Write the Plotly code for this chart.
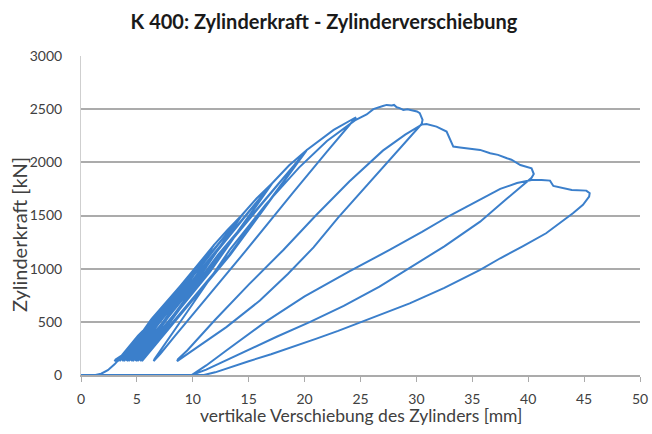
import plotly.graph_objects as go

# ---- data (displacement in mm, force in kN) ----
# initial loading and the small / medium load cycles
small_x = [0, 1.3, 1.8, 2.4, 3.0, 3.6, 4.3, 4.9,
           3.9, 3.1, 3.0, 3.1, 3.8, 4.85,
           6.1, 7.3,
           5.5, 3.6, 3.3, 3.38, 5.1, 7.25,
           5.6, 3.75, 3.45, 3.52, 5.2, 7.3,
           8.4, 9.5,
           6.9, 4.1, 3.7, 3.78, 6.3, 9.45,
           7.0, 4.25, 3.85, 3.93, 6.45, 9.5,
           10.7, 11.9,
           8.35, 4.55, 4.1, 4.18, 7.65, 11.85,
           8.45, 4.7, 4.25, 4.33, 7.8, 11.9,
           13.1, 14.4,
           9.85, 4.95, 4.5, 4.58, 9.05, 14.35,
           9.95, 5.1, 4.65, 4.73, 9.2, 14.4,
           15.7, 17.1,
           11.45, 5.4, 4.9, 4.98, 10.55, 17.05,
           11.55, 5.55, 5.05, 5.13, 10.7, 17.1,
           18.6, 20.2,
           13.25, 5.8, 5.3, 5.38, 12.25, 20.15,
           13.35, 5.95, 5.45, 5.53, 12.4, 20.2,
           22.6, 24.6]
small_f = [0, 0, 12, 45, 100, 165, 250, 320,
           190, 140, 128, 145, 195, 318,
           465, 600,
           370, 170, 130, 150, 370, 595,
           372, 172, 130, 150, 372, 600,
           760, 912,
           526, 180, 130, 150, 526, 905,
           526, 180, 130, 150, 526, 912,
           1070, 1223,
           682, 185, 130, 150, 682, 1215,
           682, 185, 130, 150, 682, 1223,
           1365, 1505,
           823, 190, 130, 150, 823, 1497,
           823, 190, 130, 150, 823, 1505,
           1660, 1803,
           972, 195, 130, 150, 972, 1795,
           972, 195, 130, 150, 972, 1803,
           1970, 2117,
           1129, 200, 130, 150, 1129, 2108,
           1129, 200, 130, 150, 1129, 2117,
           2305, 2424]

# cycle at 24.6 mm
loop24_x = [22.0, 19.0, 14.8, 11.0, 8.5, 7.1, 6.5,
            6.58, 8.0, 10.0, 13.3, 16.5, 19.5, 22.0, 24.5]
loop24_f = [2100, 1720, 1176, 700, 380, 200, 130,
            150, 370, 670, 1176, 1600, 1950, 2200, 2395]

# maximum load region
peak_x = [25.0, 25.55, 26.15, 26.74, 27.0, 27.34, 27.8, 28.0, 28.24, 28.5,
          28.83, 29.2, 29.72, 30.05, 30.3, 30.55, 30.47]
peak_f = [2420, 2450, 2500, 2524, 2530, 2540, 2535, 2540, 2518, 2510,
          2493, 2498, 2487, 2478, 2462, 2399, 2361]

# cycle at 30.5 mm
loop30_x = [28.0, 25.5, 23.0, 20.8, 18.5, 16.0, 13.0, 10.8, 9.3, 8.6,
            8.68, 9.5, 12.0, 15.0, 18.1, 21.0, 24.0, 27.0, 29.0, 30.47]
loop30_f = [2070, 1780, 1480, 1200, 950, 700, 450, 290, 180, 130,
            150, 230, 520, 850, 1176, 1500, 1820, 2110, 2260, 2355]

# softening branch
soft_x = [30.9, 31.8, 32.7, 33.0, 33.3, 33.9, 34.5, 35.1, 35.7, 36.6, 37.3,
          38.1, 38.5, 39.3, 39.9, 40.3, 40.5, 40.3]
soft_f = [2361, 2336, 2289, 2211, 2148, 2140, 2133, 2128, 2117, 2085, 2070,
          2038, 2025, 1975, 1955, 1944, 1890, 1855]

# cycle at 40 mm
loop40_x = [38.0, 35.7, 32.5, 29.4, 26.7, 23.5, 20.5, 17.5, 15.0, 12.8, 11.2, 9.9,
            11.2, 13.0, 16.5, 20.0, 24.0, 27.6, 30.5, 33.0, 35.7, 37.5, 39.0, 40.3]
loop40_f = [1650, 1442, 1210, 1004, 831, 650, 500, 360, 240, 130, 50, 0,
            90, 230, 500, 740, 975, 1176, 1345, 1500, 1650, 1750, 1805, 1834]

# last branch and final unloading
final_x = [41.2, 41.95, 42.25, 43.4, 43.9, 45.2, 45.5, 45.45,
           44.9, 44.0, 42.8, 41.6, 39.5, 37.5, 35.7, 32.5, 29.4, 26.7, 25.2,
           23.0, 21.0, 19.0, 17.0, 15.0, 13.5, 12.0, 11.0, 0]
final_f = [1834, 1828, 1778, 1756, 1740, 1734, 1709, 1677,
           1600, 1521, 1425, 1333, 1210, 1098, 988, 820, 674, 564, 500,
           415, 340, 265, 195, 130, 75, 25, 0, 0]

x_ticks = [0, 5, 10, 15, 20, 25, 30, 35, 40, 45, 50]
y_ticks = [0, 500, 1000, 1500, 2000, 2500, 3000]

title_text = "K 400: Zylinderkraft - Zylinderverschiebung"
x_title = "vertikale Verschiebung des Zylinders [mm]"
y_title = "Zylinderkraft [kN]"

disp = small_x + loop24_x + peak_x + loop30_x + soft_x + loop40_x + final_x
force = small_f + loop24_f + peak_f + loop30_f + soft_f + loop40_f + final_f

FONT = "Lato"
GRID = "#ababab"
TXT = "#404040"

fig = go.Figure()
fig.add_trace(go.Scatter(
    x=disp, y=force, mode="lines",
    line=dict(color="#3b7fcb", width=2),
    cliponaxis=False, hoverinfo="skip", showlegend=False,
))

fig.update_layout(
    width=652, height=434,
    margin=dict(l=81, r=12, t=56, b=59, autoexpand=False),
    paper_bgcolor="white", plot_bgcolor="white",
    font=dict(family=FONT, color=TXT, size=14),
    title=dict(text="<b>" + title_text + "</b>",
               x=324 / 652, xanchor="center", y=1 - 22 / 434, yanchor="middle",
               xref="container", yref="container",
               font=dict(family=FONT, size=20, color="#1a1a1a")),
    annotations=[
        dict(text=x_title, xref="paper", yref="paper",
             x=(361 - 81) / 559, y=(375 - 415) / 319,
             xanchor="center", yanchor="middle", showarrow=False,
             font=dict(family=FONT, size=17.5, color=TXT)),
        dict(text=y_title, xref="paper", yref="paper", textangle=-90,
             x=(19 - 81) / 559, y=(375 - 235) / 319,
             xanchor="center", yanchor="middle", showarrow=False,
             font=dict(family=FONT, size=20, color=TXT)),
    ],
)
fig.update_xaxes(
    range=[0, 50], tickvals=x_ticks, ticktext=[str(v) for v in x_ticks],
    showgrid=False, zeroline=False,
    showline=True, linecolor=GRID, linewidth=1.5,
    ticks="outside", ticklen=5, tickcolor=GRID, tickwidth=1.2,
    ticklabelstandoff=5,
    tickfont=dict(size=14, color=TXT),
)
fig.update_yaxes(
    range=[0, 3000], tickvals=y_ticks, ticktext=[str(v) for v in y_ticks],
    showgrid=True, gridcolor=GRID, gridwidth=1.5, zeroline=False,
    showline=True, linecolor="#cfcfcf", linewidth=1,
    ticks="", ticklabelstandoff=15,
    tickfont=dict(size=14, color=TXT),
)

fig.write_html("out.html", config={"displayModeBar": False},
               post_script="document.body.style.margin='0';")
